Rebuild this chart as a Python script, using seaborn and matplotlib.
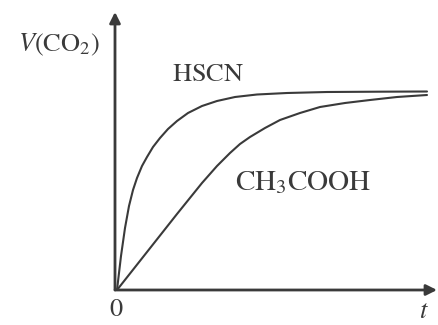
import pandas as pd
import matplotlib
matplotlib.use('Agg')
import matplotlib.pyplot as plt
import seaborn as sns

# values (t, V) in arbitrary units
hscn_t = [0, 4, 8, 12, 16, 20, 25, 30, 36, 43, 51, 60, 71, 85, 100, 118, 140, 170, 210, 260, 310]
hscn_v = [0, 34, 62, 84, 100, 112, 124, 133, 143, 152, 161, 169, 177, 184, 189, 193, 195.5, 197, 198, 198.3, 198.5]

acid_t = [0, 30, 60, 85, 100, 113, 123, 133, 148, 163, 183, 203, 228, 253, 280, 310]
acid_v = [0, 38, 76, 107, 124, 137, 146, 153, 162, 170, 177, 183, 187, 190, 193, 195]

labels = ['HSCN', 'CH3COOH']

df = pd.concat([
    pd.DataFrame({'t': hscn_t, 'V': hscn_v, 'acid': labels[0]}),
    pd.DataFrame({'t': acid_t, 'V': acid_v, 'acid': labels[1]}),
])

sns.set_style('white')
plt.rcParams['mathtext.fontset'] = 'stix'
plt.rcParams['font.family'] = ['Liberation Serif', 'DejaVu Serif']

ink = '#3a3a3a'

fig = plt.figure(figsize=(4.38, 3.25), dpi=100)
ax = fig.add_axes([0, 0, 1, 1])

sns.lineplot(data=df, x='t', y='V', hue='acid', palette=[ink, ink],
             linewidth=1.5, legend=False, ax=ax, sort=False)

ax.set_xlim(-117, 321)
ax.set_ylim(-35, 290)
ax.axis('off')

# axis arrows
arrow = dict(arrowstyle='-|>', color=ink, lw=2.0, mutation_scale=16,
             shrinkA=0, shrinkB=0)
ax.annotate('', xy=(320, 0), xytext=(-2, 0), arrowprops=arrow)
ax.annotate('', xy=(-2, 278), xytext=(-2, 0), arrowprops=arrow)

fs = 19
ax.text(-58, 245, r'$V\mathrm{(CO_2)}$', fontsize=fs, color=ink,
        ha='center', va='center')
ax.text(91, 215, r'$\mathrm{HSCN}$', fontsize=fs, color=ink,
        ha='center', va='center')
ax.text(186, 107, r'$\mathrm{CH_3COOH}$', fontsize=21, color=ink,
        ha='center', va='center')
ax.text(-1, -20, r'$\mathrm{0}$', fontsize=fs, color=ink,
        ha='center', va='center')
ax.text(307, -22, r'$t$', fontsize=fs, color=ink,
        ha='center', va='center')

fig.savefig('out.png', dpi=100)
